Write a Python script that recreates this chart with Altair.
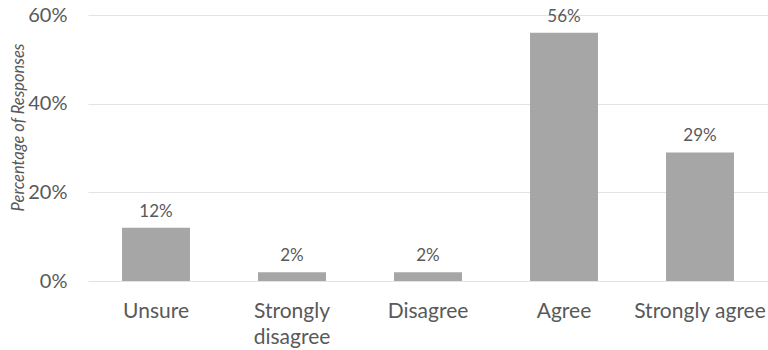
import altair as alt
import pandas as pd

categories = ["Unsure", "Strongly disagree", "Disagree", "Agree", "Strongly agree"]
values = [12, 2, 2, 56, 29]
labels = ["12%", "2%", "2%", "56%", "29%"]

df = pd.DataFrame({"category": categories, "value": values, "label": labels})

FONT = "Lato"
TXT = "#595959"

base = alt.Chart(df).encode(
    x=alt.X(
        "category:N",
        sort=categories,
        scale=alt.Scale(paddingInner=0.5, paddingOuter=0.25),
        axis=alt.Axis(
            title=None,
            labelAngle=0,
            labelFont=FONT,
            labelFontSize=21,
            labelColor=TXT,
            labelPadding=19,
            labelLineHeight=26,
            ticks=False,
            domain=False,
            grid=False,
            labelExpr="datum.label == 'Strongly disagree' ? ['Strongly', 'disagree'] : datum.label",
        ),
    ),
    y=alt.Y(
        "value:Q",
        scale=alt.Scale(domain=[0, 60]),
        axis=alt.Axis(
            title="Percentage of Responses",
            titleFont=FONT,
            titleFontSize=16.5,
            titleFontStyle="italic",
            titleFontWeight="normal",
            titleColor=TXT,
            titleX=-70,
            titleY=112,
            titleAlign="center",
            titleBaseline="middle",
            titleAngle=270,
            values=[0, 20, 40, 60],
            labelExpr="datum.value + '%'",
            labelFont=FONT,
            labelFontSize=20,
            labelColor=TXT,
            labelPadding=21,
            ticks=False,
            domain=False,
            grid=True,
            gridColor="#e3e3e3",
            gridWidth=1,
        ),
    ),
)

bars = base.mark_bar(color="#a6a6a6")
text = base.mark_text(
    baseline="bottom", dy=-7, font=FONT, fontSize=17, color=TXT
).encode(text="label:N")

chart = (
    (bars + text)
    .properties(
        width=680,
        height=266,
        background="white",
        autosize=alt.AutoSizeParams(type="none"),
        padding={"left": 88, "top": 15, "right": 0, "bottom": 69},
    )
    .configure_view(strokeWidth=0)
)

chart.save("out.html", embed_options={"renderer": "svg", "actions": False})
